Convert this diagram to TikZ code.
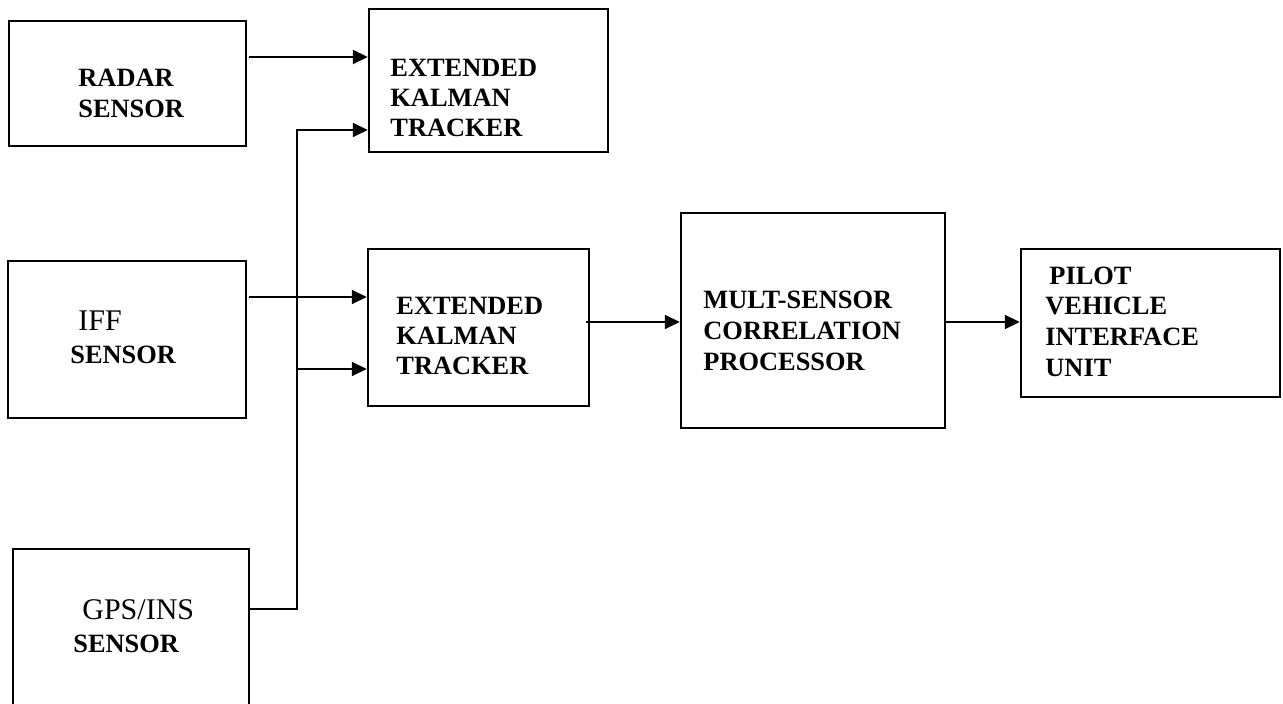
\documentclass[tikz,border=0pt]{standalone}
\usepackage{fontspec}
\setmainfont{Liberation Serif}
\usetikzlibrary{arrows.meta,fit}
\begin{document}
\begin{tikzpicture}[x=0.5pt,y=-0.5pt,
  blk/.style={draw=black,line width=1.25pt,inner sep=0pt},
  lbl/.style={anchor=base west,inner sep=0pt,
    font=\fontsize{13.2}{15.2}\selectfont\bfseries},
  plain/.style={anchor=base west,inner sep=0pt,
    font=\fontsize{15}{18}\selectfont},
  wire/.style={line width=1pt},
  feed/.style={wire,-{Triangle[length=7.5pt,width=7pt]}}]
\useasboundingbox (0,0) rectangle (1283,704);
\clip (0,0) rectangle (1283,704);

% blocks, given by opposite corners
\node[blk,fit={(9,21)(246,146)}]     (radar) {};
\node[blk,fit={(369,9)(608,152)}]    (ekt1)  {};
\node[blk,fit={(8,261)(246,418)}]    (iff)   {};
\node[blk,fit={(368,249)(589,406)}]  (ekt2)  {};
\node[blk,fit={(681,213)(945,428)}]  (mcp)   {};
\node[blk,fit={(1021,249)(1280,397)}](pvi)   {};
\node[blk,fit={(13,549)(249,730)}]   (gps)   {};

% labels
\node[lbl] (radarA) at (78,87)  {RADAR};
\node[lbl] (radarB) at (78,118) {SENSOR};

\node[lbl] (ekt1A) at (390,77)  {EXTENDED};
\node[lbl] (ekt1B) at (390,107) {KALMAN};
\node[lbl] (ekt1C) at (390,137) {TRACKER};

\node[plain] (iffA) at (78,331) {IFF};
\node[lbl]   (iffB) at (70,364) {SENSOR};

\node[lbl] (ekt2A) at (396,315) {EXTENDED};
\node[lbl] (ekt2B) at (396,345) {KALMAN};
\node[lbl] (ekt2C) at (396,375) {TRACKER};

\node[lbl] (mcpA) at (703,309) {MULT-SENSOR};
\node[lbl] (mcpB) at (703,340) {CORRELATION};
\node[lbl] (mcpC) at (703,371) {PROCESSOR};

\node[lbl] (pviA) at (1049,285) {PILOT};
\node[lbl] (pviB) at (1045,315) {VEHICLE};
\node[lbl] (pviC) at (1045,346) {INTERFACE};
\node[lbl] (pviD) at (1045,377) {UNIT};

\node[plain] (gpsA) at (82,619) {GPS/INS};
\node[lbl]   (gpsB) at (73,652) {SENSOR};

% signal rows and the shared bus
\coordinate (rowA) at (0,57);
\coordinate (rowB) at (0,130);
\coordinate (rowC) at (0,297);
\coordinate (rowD) at (0,369);
\coordinate (rowE) at (0,322);
\coordinate (rowF) at (0,609);
\coordinate (bus)  at (297,0);

% connectors
\draw[feed] ([xshift=1pt]radar.east |- rowA) -- (ekt1.west |- rowA);
\draw[feed] (gps.east |- rowF) -| (bus |- rowB) -- (ekt1.west |- rowB);
\draw[feed] ([xshift=1pt]iff.east |- rowC) -- (ekt2.west |- rowC);
\draw[feed] (bus |- rowD) -- (ekt2.west |- rowD);
\draw[feed] ([xshift=-2pt]ekt2.east |- rowE) -- (mcp.west |- rowE);
\draw[feed] (mcp.east |- rowE) -- (pvi.west |- rowE);
\end{tikzpicture}
\end{document}
